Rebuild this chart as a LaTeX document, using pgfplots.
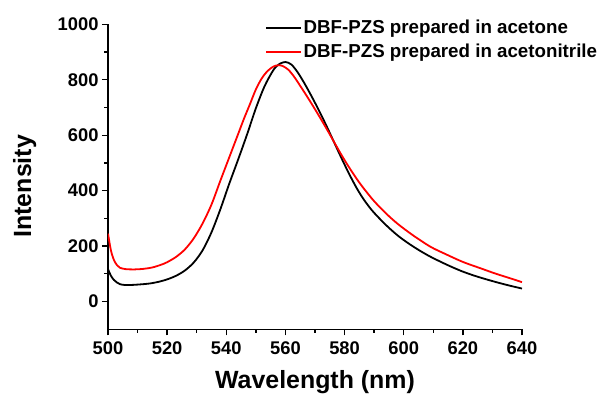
\documentclass[border=0pt]{standalone}
\usepackage{pgfplots}
\pgfplotsset{compat=1.18}
\usepackage{fontspec}
\setmainfont{Liberation Sans}
\pgfplotsset{mylegendline/.style={legend image code/.code={\draw[##1, line width=2bp] (0bp,0bp) -- (35bp,0bp);}}}
\begin{document}
\begin{tikzpicture}
\useasboundingbox (-108bp,-67bp) rectangle (493bp,329.3bp);
\begin{axis}[
  scale only axis,
  width=414bp, height=305bp,
  xmin=500, xmax=640, ymin=-100, ymax=1000,
  axis lines*=left,
  axis line style={line width=1.4bp},
  every tick/.style={line width=1.3bp, black},
  tick align=outside,
  major tick length=6bp, minor tick length=3.5bp,
  xtick={500,520,...,640}, minor x tick num=1,
  ytick={0,200,...,1000}, minor y tick num=1,
  /pgf/number format/assume math mode=true,
  /pgf/number format/1000 sep={},
  tick label style={font=\fontsize{18.4}{18.4}\selectfont\bfseries},
  xticklabel style={yshift=-3bp},
  xlabel={Wavelength (nm)}, ylabel={Intensity},
  label style={font=\fontsize{25}{25}\selectfont\bfseries},
  xlabel style={at={(rel axis cs:0.5,0)}, anchor=base, yshift=-59bp},
  ylabel style={at={(rel axis cs:0,0.469)}, anchor=base, yshift=76.8bp},
  mylegendline,
  legend style={draw=none, fill=none, at={(rel axis cs:0.379,1.018)}, anchor=north west,
    font=\fontsize{18.8}{18.8}\selectfont\bfseries, row sep=6.4bp, inner sep=0pt,
    nodes={inner xsep=1.5bp, inner ysep=0pt, text height=14bp, text depth=4bp}},
  legend cell align=left,
]
\addplot[black, line width=1.8bp, smooth] coordinates {
(500,117) (501,93) (502,78) (503,69) (504,63) (505.5,60) (508,60) (511,62)
(514,65) (517,71) (520,80) (523,93) (526,112) (529,141) (532,185) (535,250)
(538,333) (541,425) (544,512) (547,602) (550,697) (553,778) (556,836) (558,857)
(560,864) (562,855) (564,829) (566,795) (568,757) (570,717) (572,675) (574,631)
(576,585) (578,539) (580,494) (582,451) (584,411) (586,376) (588,346) (590,320)
(594,276) (598,238) (602,207) (606,180) (609,162) (612,146) (616,126) (620,108)
(624,93) (628,80) (632,68) (636,57) (640,47)
};
\addlegendentry{DBF-PZS prepared in acetone}
\addplot[red, line width=1.8bp, smooth] coordinates {
(500,245) (501,184) (502,150) (503,132) (504,122) (506,117) (509,116) (512,118)
(515,123) (518,133) (520,142) (523,161) (526,188) (529,228) (532,282) (535,350)
(538,436) (540,492) (542,548) (544,604) (546,660) (548,712) (550,765)
(552,805) (554,832) (556,848) (557.5,852) (559,850) (561,836) (563,810) (565,778)
(567,745) (569,711) (571,676) (573,640) (575,603) (577,565) (579,528) (581,493)
(583,460) (585,429) (587,401) (590,362) (594,318) (598,280) (603,240) (609,198)
(614,172) (620,143) (626,120) (631,101) (636,84) (640,70)
};
\addlegendentry{DBF-PZS prepared in acetonitrile}
\end{axis}
\end{tikzpicture}
\end{document}
